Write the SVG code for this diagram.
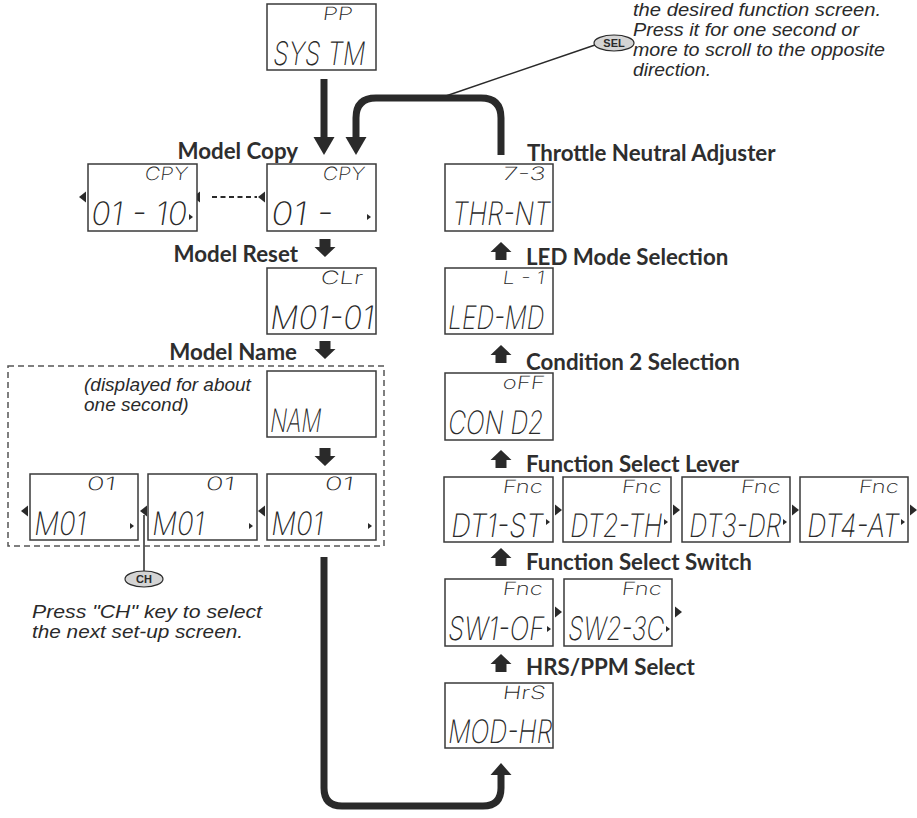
<svg xmlns="http://www.w3.org/2000/svg" xmlns:xlink="http://www.w3.org/1999/xlink" width="917" height="818" viewBox="0 0 917 818">
<style>
.box{fill:#fff;stroke:#3a3a3a;stroke-width:1.5}
.lcd{font-family:Inter,"DejaVu Sans",sans-serif;font-weight:200;fill:#2a2a2a}
.ls{font-size:14px}
.ll{font-size:24px}
.lbl{font-family:Lato,"Liberation Sans",sans-serif;font-weight:700;font-size:22.3px;fill:#2e2e2e}
.note{font-family:"Liberation Sans",Arial,sans-serif;font-style:italic;font-size:19px;fill:#2a2a2a}
.conn{fill:none;stroke:#2a2a2a;stroke-width:7}
.thin{fill:none;stroke:#2a2a2a;stroke-width:1.5}
.ar{fill:#2a2a2a}
.key{fill:#d4d4d4;stroke:#2a2a2a;stroke-width:1.2}
.keyt{font-family:"Liberation Sans",Arial,sans-serif;font-weight:700;font-size:11px;fill:#2a2a2a}
</style>
<defs>
<path id="up" d="M-5.5,9 V1 H-10.5 L0,-9 L10.5,1 H5.5 V9 Z"/>
<path id="down" d="M-5.5,-9 V-1 H-10.5 L0,9 L10.5,-1 H5.5 V-9 Z"/>
<path id="triR" d="M0,-5.5 L7,0 L0,5.5 Z"/>
<path id="triL" d="M0,-5.5 L-7,0 L0,5.5 Z"/>
<path id="triS" d="M0,-3 L4,0 L0,3 Z"/>
</defs>
<rect width="917" height="818" fill="#fff"/>

<g id="connectors">
<line class="conn" x1="324" y1="79" x2="324" y2="139"/>
<path class="ar" d="M313.5,137 L334.5,137 L324,155 Z"/>
<path class="conn" d="M356,139 V118 Q356,98 376,98 H481 Q501,98 501,118 V155"/>
<path class="ar" d="M345.5,137 L366.5,137 L356,155 Z"/>
<line class="thin" x1="440" y1="98" x2="595" y2="45"/>
<path class="conn" d="M324,557 V788 Q324,806 342,806 H483 Q501,806 501,788 V772"/>
<path class="ar" d="M490.5,775 L511.5,775 L501,763 Z"/>
<use href="#down" x="325" y="248" class="ar"/>
<use href="#down" x="325" y="350" class="ar"/>
<use href="#down" x="325" y="457" class="ar"/>
<use href="#up" x="501" y="251" class="ar"/>
<use href="#up" x="501" y="354" class="ar"/>
<use href="#up" x="501" y="459" class="ar"/>
<use href="#up" x="501" y="557" class="ar"/>
<use href="#up" x="501" y="663" class="ar"/>
<line x1="212" y1="197" x2="257" y2="197" stroke="#2a2a2a" stroke-width="2" stroke-dasharray="5,3.5"/>
<use href="#triL" x="200" y="197" class="ar"/>
<line class="thin" x1="144" y1="515" x2="144" y2="571"/>
<rect x="8" y="366" width="376" height="180" fill="none" stroke="#555" stroke-width="1.5" stroke-dasharray="6,4"/>
</g>

<g id="note-sel">
<ellipse class="key" cx="614" cy="43" rx="20" ry="8"/>
<text class="keyt" x="614" y="47" text-anchor="middle">SEL</text>
<text class="note" x="633" y="16" textLength="248" lengthAdjust="spacingAndGlyphs">the desired function screen.</text>
<text class="note" x="633" y="36" textLength="226" lengthAdjust="spacingAndGlyphs">Press it for one second or</text>
<text class="note" x="633" y="56" textLength="252" lengthAdjust="spacingAndGlyphs">more to scroll to the opposite</text>
<text class="note" x="633" y="76" textLength="78" lengthAdjust="spacingAndGlyphs">direction.</text>
</g>

<g id="note-ch">
<ellipse class="key" cx="144" cy="579" rx="19" ry="8"/>
<text class="keyt" x="144" y="583" text-anchor="middle">CH</text>
<text class="note" x="32" y="618" textLength="230" lengthAdjust="spacingAndGlyphs">Press "CH" key to select</text>
<text class="note" x="32" y="638" textLength="211" lengthAdjust="spacingAndGlyphs">the next set-up screen.</text>
</g>

<g id="node-system">
<rect class="box" x="267" y="4" width="109" height="66"/>
<text class="lcd ls" transform="translate(322 20) skewX(-8) scale(1 1.3)" textLength="30" lengthAdjust="spacingAndGlyphs">PP</text>
<text class="lcd ll" transform="translate(272 65) skewX(-8) scale(1 1.35)" textLength="92" lengthAdjust="spacingAndGlyphs">SYS TM</text>
</g>

<g id="node-copy-range">
<rect class="box" x="88" y="164" width="109" height="67"/>
<use href="#triL" x="86" y="197" class="ar"/>
<text class="lcd ls" transform="translate(144 180) skewX(-8) scale(1 1.3)" textLength="43" lengthAdjust="spacingAndGlyphs">CPY</text>
<text class="lcd ll" transform="translate(90 225) skewX(-8) scale(1 1.35)" textLength="96" lengthAdjust="spacingAndGlyphs">01 - 10</text>
<use href="#triS" x="189" y="217" class="ar"/>
</g>

<g id="node-copy">
<text class="lbl" x="298" y="159" text-anchor="end">Model Copy</text>
<rect class="box" x="267" y="164" width="109" height="67"/>
<use href="#triL" x="265" y="197" class="ar"/>
<text class="lcd ls" transform="translate(322 180) skewX(-8) scale(1 1.3)" textLength="42" lengthAdjust="spacingAndGlyphs">CPY</text>
<text class="lcd ll" transform="translate(270 225) skewX(-8) scale(1 1.35)" textLength="62" lengthAdjust="spacingAndGlyphs">01  -</text>
<use href="#triS" x="367" y="217" class="ar"/>
</g>

<g id="node-reset">
<text class="lbl" x="298" y="262" text-anchor="end">Model Reset</text>
<rect class="box" x="267" y="268" width="109" height="66"/>
<text class="lcd ls" transform="translate(320 284) skewX(-8) scale(1 1.3)" textLength="42" lengthAdjust="spacingAndGlyphs">CLr</text>
<text class="lcd ll" transform="translate(269 329) skewX(-8) scale(1 1.35)" textLength="104" lengthAdjust="spacingAndGlyphs">M01-01</text>
</g>

<g id="node-name">
<text class="lbl" x="297" y="360" text-anchor="end">Model Name</text>
<text class="note" x="84" y="391">(displayed for about</text>
<text class="note" x="84" y="411">one second)</text>
<rect class="box" x="267" y="371" width="109" height="66"/>
<text class="lcd ll" transform="translate(269 432) skewX(-8) scale(1 1.35)" textLength="51" lengthAdjust="spacingAndGlyphs">NAM</text>
</g>

<g id="node-m01-a">
<rect class="box" x="30" y="474" width="108" height="66"/>
<use href="#triL" x="28" y="511" class="ar"/>
<text class="lcd ls" transform="translate(86 490) skewX(-8) scale(1 1.3)" textLength="29" lengthAdjust="spacingAndGlyphs">01</text>
<text class="lcd ll" transform="translate(33 535) skewX(-8) scale(1 1.35)" textLength="52" lengthAdjust="spacingAndGlyphs">M01</text>
<use href="#triS" x="130" y="526" class="ar"/>
</g>
<g id="node-m01-b">
<rect class="box" x="148" y="474" width="109" height="66"/>
<use href="#triL" x="147" y="511" class="ar"/>
<text class="lcd ls" transform="translate(205 490) skewX(-8) scale(1 1.3)" textLength="29" lengthAdjust="spacingAndGlyphs">01</text>
<text class="lcd ll" transform="translate(151 535) skewX(-8) scale(1 1.35)" textLength="52" lengthAdjust="spacingAndGlyphs">M01</text>
<use href="#triS" x="249" y="526" class="ar"/>
</g>
<g id="node-m01-c">
<rect class="box" x="267" y="474" width="109" height="66"/>
<use href="#triL" x="265" y="511" class="ar"/>
<text class="lcd ls" transform="translate(324 490) skewX(-8) scale(1 1.3)" textLength="29" lengthAdjust="spacingAndGlyphs">01</text>
<text class="lcd ll" transform="translate(270 535) skewX(-8) scale(1 1.35)" textLength="52" lengthAdjust="spacingAndGlyphs">M01</text>
<use href="#triS" x="368" y="526" class="ar"/>
</g>

<g id="node-thr">
<text class="lbl" x="527" y="161">Throttle Neutral Adjuster</text>
<rect class="box" x="445" y="164" width="108" height="67"/>
<text class="lcd ls" transform="translate(502 180) skewX(-8) scale(1 1.3)" textLength="43" lengthAdjust="spacingAndGlyphs">7-3</text>
<text class="lcd ll" transform="translate(451 225) skewX(-8) scale(1 1.35)" textLength="98" lengthAdjust="spacingAndGlyphs">THR-NT</text>
</g>

<g id="node-led">
<text class="lbl" x="526" y="265">LED Mode Selection</text>
<rect class="box" x="445" y="268" width="108" height="66"/>
<text class="lcd ls" transform="translate(502 284) skewX(-8) scale(1 1.3)" textLength="42" lengthAdjust="spacingAndGlyphs">L - 1</text>
<text class="lcd ll" transform="translate(447 329) skewX(-8) scale(1 1.35)" textLength="96" lengthAdjust="spacingAndGlyphs">LED-MD</text>
</g>

<g id="node-cond">
<text class="lbl" x="526" y="370">Condition 2 Selection</text>
<rect class="box" x="445" y="373" width="108" height="67"/>
<text class="lcd ls" transform="translate(502 389) skewX(-8) scale(1 1.3)" textLength="42" lengthAdjust="spacingAndGlyphs">oFF</text>
<text class="lcd ll" transform="translate(447 434) skewX(-8) scale(1 1.35)" textLength="95" lengthAdjust="spacingAndGlyphs">CON D2</text>
</g>

<g id="node-dt1">
<text class="lbl" x="526" y="472">Function Select Lever</text>
<rect class="box" x="444" y="477" width="109" height="65"/>
<text class="lcd ls" transform="translate(502 493) skewX(-8) scale(1 1.3)" textLength="40" lengthAdjust="spacingAndGlyphs">Fnc</text>
<text class="lcd ll" transform="translate(450 537) skewX(-8) scale(1 1.35)" textLength="92" lengthAdjust="spacingAndGlyphs">DT1-ST</text>
<use href="#triS" x="546" y="522" class="ar"/>
<use href="#triR" x="555" y="510" class="ar"/>
</g>
<g id="node-dt2">
<rect class="box" x="563" y="477" width="108" height="65"/>
<text class="lcd ls" transform="translate(621 493) skewX(-8) scale(1 1.3)" textLength="40" lengthAdjust="spacingAndGlyphs">Fnc</text>
<text class="lcd ll" transform="translate(569 537) skewX(-8) scale(1 1.35)" textLength="92" lengthAdjust="spacingAndGlyphs">DT2-TH</text>
<use href="#triS" x="664" y="522" class="ar"/>
<use href="#triR" x="673" y="510" class="ar"/>
</g>
<g id="node-dt3">
<rect class="box" x="682" y="477" width="108" height="65"/>
<text class="lcd ls" transform="translate(740 493) skewX(-8) scale(1 1.3)" textLength="40" lengthAdjust="spacingAndGlyphs">Fnc</text>
<text class="lcd ll" transform="translate(688 537) skewX(-8) scale(1 1.35)" textLength="92" lengthAdjust="spacingAndGlyphs">DT3-DR</text>
<use href="#triS" x="783" y="522" class="ar"/>
<use href="#triR" x="792" y="510" class="ar"/>
</g>
<g id="node-dt4">
<rect class="box" x="800" y="477" width="108" height="65"/>
<text class="lcd ls" transform="translate(858 493) skewX(-8) scale(1 1.3)" textLength="40" lengthAdjust="spacingAndGlyphs">Fnc</text>
<text class="lcd ll" transform="translate(806 537) skewX(-8) scale(1 1.35)" textLength="92" lengthAdjust="spacingAndGlyphs">DT4-AT</text>
<use href="#triS" x="901" y="522" class="ar"/>
<use href="#triR" x="910" y="510" class="ar"/>
</g>

<g id="node-sw1">
<text class="lbl" x="526" y="570">Function Select Switch</text>
<rect class="box" x="445" y="579" width="108" height="67"/>
<text class="lcd ls" transform="translate(502 595) skewX(-8) scale(1 1.3)" textLength="40" lengthAdjust="spacingAndGlyphs">Fnc</text>
<text class="lcd ll" transform="translate(447 640) skewX(-8) scale(1 1.35)" textLength="96" lengthAdjust="spacingAndGlyphs">SW1-OF</text>
<use href="#triS" x="547" y="629" class="ar"/>
<use href="#triR" x="555" y="612" class="ar"/>
</g>
<g id="node-sw2">
<rect class="box" x="564" y="579" width="108" height="67"/>
<text class="lcd ls" transform="translate(621 595) skewX(-8) scale(1 1.3)" textLength="40" lengthAdjust="spacingAndGlyphs">Fnc</text>
<text class="lcd ll" transform="translate(567 640) skewX(-8) scale(1 1.35)" textLength="96" lengthAdjust="spacingAndGlyphs">SW2-3C</text>
<use href="#triS" x="666" y="629" class="ar"/>
<use href="#triR" x="675" y="612" class="ar"/>
</g>

<g id="node-hrs">
<text class="lbl" x="526" y="675">HRS/PPM Select</text>
<rect class="box" x="445" y="683" width="108" height="65"/>
<text class="lcd ls" transform="translate(502 699) skewX(-8) scale(1 1.3)" textLength="43" lengthAdjust="spacingAndGlyphs">HrS</text>
<text class="lcd ll" transform="translate(447 743) skewX(-8) scale(1 1.35)" textLength="104" lengthAdjust="spacingAndGlyphs">MOD-HR</text>
</g>
</svg>
